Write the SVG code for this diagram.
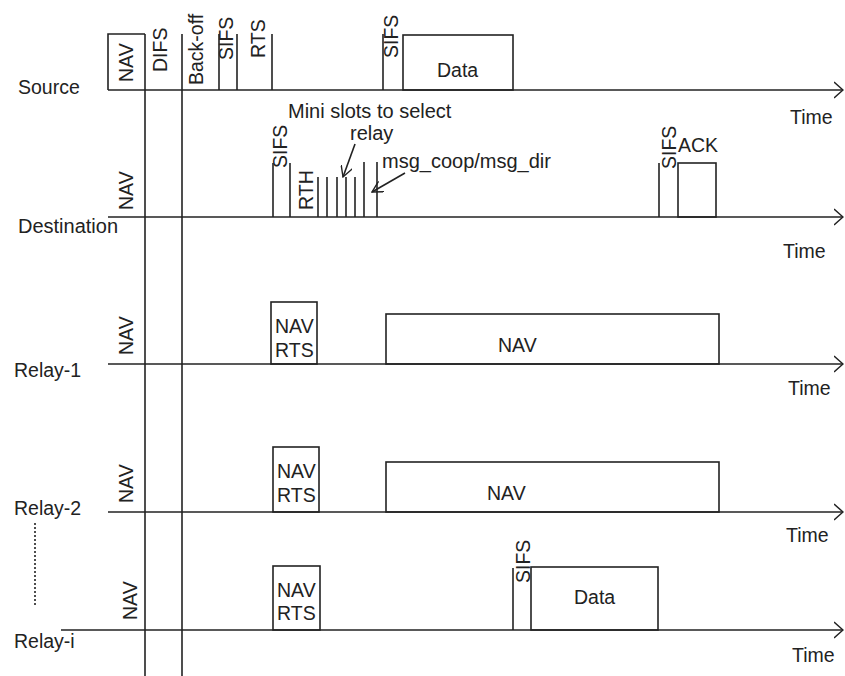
<svg xmlns="http://www.w3.org/2000/svg" width="845" height="676" viewBox="0 0 845 676">
<style>
text{font-family:"Liberation Sans",Arial,sans-serif;font-size:19.5px;fill:#222}
.big{font-size:20px}
.ln{stroke:#222;stroke-width:1.6;fill:none}
.dot{stroke:#222;stroke-width:1.6;stroke-dasharray:2 2;fill:none}
</style>
<defs>
<marker id="ah" viewBox="0 0 10 18" refX="9.5" refY="9" markerWidth="10" markerHeight="18" markerUnits="userSpaceOnUse" orient="auto">
<path d="M0.5,1 L9.5,9 L0.5,17" fill="none" stroke="#222" stroke-width="1.5"/>
</marker>
<marker id="at" viewBox="0 0 12 12" refX="11" refY="6" markerWidth="12" markerHeight="12" markerUnits="userSpaceOnUse" orient="auto">
<path d="M0,0 L11,6 L0,12" fill="none" stroke="#222" stroke-width="1.4"/>
</marker>
</defs>
<rect width="845" height="676" fill="#fff"/>

<g id="connectors">
<line class="ln" x1="108" y1="90" x2="843" y2="90" marker-end="url(#ah)"/>
<line class="ln" x1="108" y1="217" x2="843" y2="217" marker-end="url(#ah)"/>
<line class="ln" x1="108" y1="364" x2="843" y2="364" marker-end="url(#ah)"/>
<line class="ln" x1="108" y1="512" x2="843" y2="512" marker-end="url(#ah)"/>
<line class="ln" x1="61" y1="630" x2="843" y2="630" marker-end="url(#ah)"/>
<line class="ln" x1="145" y1="34" x2="145" y2="676"/>
<line class="ln" x1="182" y1="34" x2="182" y2="676"/>
<line class="dot" x1="35" y1="523" x2="35" y2="607"/>
<line class="ln" x1="355" y1="144" x2="343" y2="177" marker-end="url(#at)"/>
<line class="ln" x1="405" y1="173" x2="372" y2="192" marker-end="url(#at)"/>
</g>

<g id="source">
<text x="18" y="94">Source</text>
<path class="ln" d="M108,90 V34 H145"/>
<line class="ln" x1="219" y1="34" x2="219" y2="90"/>
<line class="ln" x1="237" y1="34" x2="237" y2="90"/>
<line class="ln" x1="272" y1="34" x2="272" y2="90"/>
<line class="ln" x1="383" y1="34" x2="383" y2="90"/>
<rect class="ln" x="403" y="35" width="110" height="55"/>
<text transform="translate(133,82) rotate(-90)">NAV</text>
<text transform="translate(167,72) rotate(-90)">DIFS</text>
<text transform="translate(203,85) rotate(-90)">Back-off</text>
<text transform="translate(233,60) rotate(-90)">SIFS</text>
<text transform="translate(265,58) rotate(-90)">RTS</text>
<text transform="translate(398,58) rotate(-90)">SIFS</text>
<text x="437" y="77">Data</text>
<text x="790" y="124">Time</text>
</g>

<g id="destination">
<text class="big" x="18" y="233">Destination</text>
<text transform="translate(133,210) rotate(-90)">NAV</text>
<line class="ln" x1="273" y1="163" x2="273" y2="217"/>
<line class="ln" x1="290" y1="163" x2="290" y2="217"/>
<text transform="translate(287,168) rotate(-90)">SIFS</text>
<text transform="translate(313,210) rotate(-90)">RTH</text>
<line class="ln" x1="318" y1="177" x2="318" y2="217"/>
<line class="ln" x1="327" y1="177" x2="327" y2="217"/>
<line class="ln" x1="337" y1="177" x2="337" y2="217"/>
<line class="ln" x1="346" y1="177" x2="346" y2="217"/>
<line class="ln" x1="355" y1="177" x2="355" y2="217"/>
<line class="ln" x1="364" y1="162" x2="364" y2="217"/>
<line class="ln" x1="377" y1="162" x2="377" y2="217"/>
<text class="big" x="288" y="118">Mini slots to select</text>
<text class="big" x="350" y="140">relay</text>
<text class="big" x="382" y="168">msg_coop/msg_dir</text>
<line class="ln" x1="659" y1="163" x2="659" y2="217"/>
<rect class="ln" x="678" y="163" width="38" height="54"/>
<text transform="translate(676,169) rotate(-90)">SIFS</text>
<text x="678" y="152">ACK</text>
<text x="783" y="258">Time</text>
</g>

<g id="relay1">
<text x="14" y="377">Relay-1</text>
<text transform="translate(133,355) rotate(-90)">NAV</text>
<rect class="ln" x="271" y="302" width="46" height="62"/>
<text x="275" y="333">NAV</text>
<text x="275" y="357">RTS</text>
<rect class="ln" x="386" y="314" width="333" height="50"/>
<text x="498" y="352">NAV</text>
<text x="788" y="395">Time</text>
</g>

<g id="relay2">
<text x="14" y="515">Relay-2</text>
<text transform="translate(133,503) rotate(-90)">NAV</text>
<rect class="ln" x="273" y="447" width="46" height="65"/>
<text x="277" y="478">NAV</text>
<text x="277" y="502">RTS</text>
<rect class="ln" x="386" y="462" width="333" height="50"/>
<text x="487" y="500">NAV</text>
<text x="786" y="542">Time</text>
</g>

<g id="relayi">
<text x="14" y="648">Relay-i</text>
<text transform="translate(137,620) rotate(-90)">NAV</text>
<rect class="ln" x="273" y="566" width="47" height="64"/>
<text x="277" y="597">NAV</text>
<text x="277" y="620">RTS</text>
<line class="ln" x1="513" y1="568" x2="513" y2="630"/>
<rect class="ln" x="531" y="567" width="127" height="63"/>
<text transform="translate(530,583) rotate(-90)">SIFS</text>
<text x="574" y="604">Data</text>
<text x="792" y="662">Time</text>
</g>
</svg>
